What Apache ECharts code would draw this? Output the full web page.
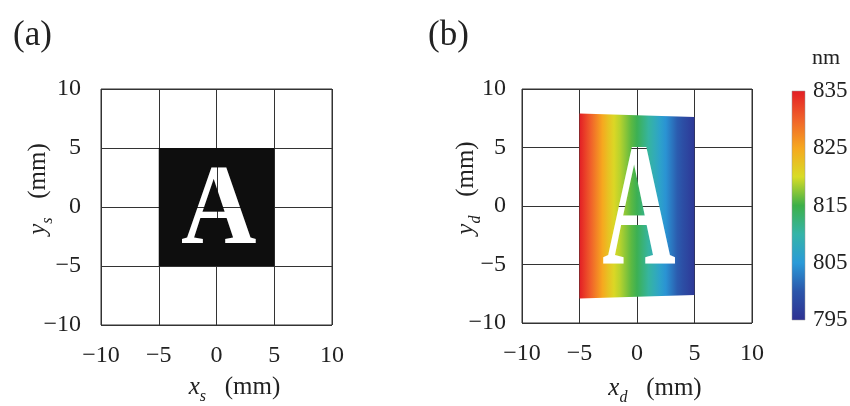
<!DOCTYPE html>
<html><head><meta charset="utf-8">
<script src="https://cdn.jsdelivr.net/npm/echarts@6/dist/echarts.min.js"></script>
<style>html,body{margin:0;padding:0;background:#fff}#c{width:850px;height:406px}</style>
</head><body><div id="c"></div>
<script>
// ---- data ----
const axisTicks = [-10, -5, 0, 5, 10];
const squareX = [-5, 5];
const squareY = [-5, 5];
const bandCornerX = [-5, 5];
const bandTop = [7.9, 7.6];
const bandBottom = [-7.9, -7.6];
const wavelengthX  = [-5, -4.5, -4, -3.5, -3, -2.5, -2, -1.5, -1, -0.5, 0, 0.5, 1, 1.5, 2, 2.5, 3, 3.5, 4, 4.5, 5];
const wavelengthNm = [835, 832.5, 830, 827.5, 825, 822.5, 820.5, 819, 817.5, 816, 814.5, 812.5, 810.5, 808.5, 806.5, 804.5, 802.5, 800.5, 799, 797.5, 796];
const colorbarRange = [795, 835];
const colorbarTicks = [795, 805, 815, 825, 835];
const palette = ['#2e3192', '#2b55aa', '#2a9ad8', '#35b4a8', '#3db049', '#d8dc26', '#f6a81f', '#f0622a', '#e31e25'];
const letterText = 'A';
const letterAnchorA = [0.2, 0.25];
const letterAnchorB = [0.17, 0.3];

const FONT = '"Liberation Serif", "Times New Roman", serif';
const TXT = '#222';
const LETTER_SIZE = 110;
const LINE_THROUGH = '#323232';
function fmt(v) { return v < 0 ? '\u2212' + Math.abs(v) : String(v); }
function nmColor(nm) { return echarts.color.lerp((nm - colorbarRange[0]) / (colorbarRange[1] - colorbarRange[0]), palette); }
const nameRich = {
  v: {fontFamily: FONT, fontStyle: 'italic', fontSize: 25, color: TXT, verticalAlign: 'bottom', padding: [0, 0, 5, 0]},
  s: {fontFamily: FONT, fontStyle: 'italic', fontSize: 16, color: TXT, verticalAlign: 'bottom'},
  n: {fontFamily: FONT, fontSize: 25, color: TXT, verticalAlign: 'bottom', padding: [0, 0, 5, 0]}
};
function axisName(main, sub) { return '{v|' + main + '}{s|' + sub + '}{n|   (mm)}'; }

function posAxis(gi, name, gap, labelMargin) {
  return {
    type: 'value', gridIndex: gi, min: axisTicks[0], max: axisTicks[axisTicks.length - 1], interval: axisTicks[1] - axisTicks[0],
    axisLine: {show: false}, axisTick: {show: false},
    splitLine: {show: true, lineStyle: {color: '#333', width: 1}},
    axisLabel: {fontFamily: FONT, fontSize: 24, color: TXT, margin: labelMargin, formatter: fmt},
    name: name, nameLocation: 'middle', nameGap: gap, nameMoveOverlap: false,
    nameTextStyle: {rich: nameRich, padding: [0, 0, 0, 36]}
  };
}

// letter: painted first (opaque white) in the overlay layer
function letterItem(sx, sy) {
  return function (params, api) {
    const p = api.coord([api.value(0), api.value(1)]);
    return {
      type: 'text', x: p[0], y: p[1] + 0.086 * LETTER_SIZE * sy, scaleX: sx, scaleY: sy,
      style: {text: letterText, fill: '#fff', fontFamily: FONT, fontWeight: 'bold', fontSize: LETTER_SIZE,
              align: 'center', verticalAlign: 'middle'}
    };
  };
}
// grid lines seen through the letter (painted only on top of the letter)
function throughLines(params, api) {
  const t = api.value(0);
  const lo = axisTicks[0], hi = axisTicks[axisTicks.length - 1];
  const v0 = api.coord([t, lo]), v1 = api.coord([t, hi]);
  const h0 = api.coord([lo, t]), h1 = api.coord([hi, t]);
  const st = {stroke: LINE_THROUGH, lineWidth: 1, blend: 'source-atop'};
  return {type: 'group', children: [
    {type: 'line', name: 'throughLine', shape: {x1: Math.round(v0[0]) + 0.5, y1: v0[1], x2: Math.round(v1[0]) + 0.5, y2: v1[1]}, style: st},
    {type: 'line', name: 'throughLine', shape: {x1: h0[0], y1: Math.round(h0[1]) + 0.5, x2: h1[0], y2: Math.round(h1[1]) + 0.5}, style: st}
  ]};
}
const tickData = axisTicks.map(function (t) { return [t]; });

const chart = echarts.init(document.getElementById('c'));
chart.setOption({
  animation: false,
  backgroundColor: '#fff',
  title: [
    {text: '(a)', left: 13, top: 18, padding: 0, textStyle: {fontFamily: FONT, fontSize: 35, fontWeight: 'normal', color: TXT}},
    {text: '(b)', left: 428, top: 18, padding: 0, textStyle: {fontFamily: FONT, fontSize: 35, fontWeight: 'normal', color: TXT}}
  ],
  grid: [
    {left: 101, top: 89, width: 231, height: 236, show: true, borderColor: '#333', borderWidth: 1, outerBoundsMode: 'none', containLabel: false},
    {left: 522, top: 89, width: 230, height: 234, show: true, borderColor: '#333', borderWidth: 1, outerBoundsMode: 'none', containLabel: false},
    {left: 792, top: 91, width: 13, height: 229, show: false, outerBoundsMode: 'none', containLabel: false}
  ],
  xAxis: [
    posAxis(0, axisName('x', 's'), 50, 19),
    posAxis(1, axisName('x', 'd'), 53, 19),
    {type: 'value', gridIndex: 2, min: 0, max: 1, show: false}
  ],
  yAxis: [
    posAxis(0, axisName('y', 's'), 45, 20),
    posAxis(1, axisName('y', 'd'), 38, 16),
    {type: 'value', gridIndex: 2, position: 'right', min: colorbarRange[0], max: colorbarRange[1],
     interval: colorbarTicks[1] - colorbarTicks[0],
     axisLine: {show: false}, axisTick: {show: false}, splitLine: {show: false},
     axisLabel: {fontFamily: FONT, fontSize: 23, color: TXT, margin: 8},
     name: 'nm', nameLocation: 'end', nameGap: 33, nameMoveOverlap: false,
     nameTextStyle: {fontFamily: FONT, fontSize: 22, color: TXT, align: 'left', verticalAlign: 'middle', padding: [0, 0, 0, 20]}}
  ],
  series: [
    {type: 'custom', xAxisIndex: 0, yAxisIndex: 0, zlevel: 1, z: 1, data: [letterAnchorA], renderItem: letterItem(0.95, 1.04)},
    {type: 'custom', xAxisIndex: 0, yAxisIndex: 0, zlevel: 1, z: 2, data: tickData, renderItem: throughLines},
    { // black square of panel (a), painted behind the letter
      type: 'custom', xAxisIndex: 0, yAxisIndex: 0, zlevel: 1, z: 3,
      data: [[squareX[0], squareY[0], squareX[1], squareY[1]]],
      renderItem: function (params, api) {
        const a = api.coord([api.value(0), api.value(3)]);
        const b = api.coord([api.value(2), api.value(1)]);
        return {type: 'rect', name: 'behindFill', shape: {x: a[0], y: a[1], width: b[0] - a[0], height: b[1] - a[1]},
                style: {fill: '#0e0e0e', blend: 'destination-over'}};
      }
    },
    {type: 'custom', xAxisIndex: 1, yAxisIndex: 1, zlevel: 1, z: 1, data: [letterAnchorB], renderItem: letterItem(0.925, 1.6)},
    {type: 'custom', xAxisIndex: 1, yAxisIndex: 1, zlevel: 1, z: 2, data: tickData, renderItem: throughLines},
    { // rainbow band of panel (b), painted behind the letter
      type: 'custom', xAxisIndex: 1, yAxisIndex: 1, zlevel: 1, z: 3,
      data: [[bandCornerX[0], bandCornerX[1], bandTop[0], bandTop[1], bandBottom[0], bandBottom[1]]],
      renderItem: function (params, api) {
        const x0 = api.value(0), x1 = api.value(1);
        const pts = [api.coord([x0, api.value(2)]), api.coord([x1, api.value(3)]),
                     api.coord([x1, api.value(5)]), api.coord([x0, api.value(4)])];
        const stops = wavelengthX.map(function (x, i) {
          return {offset: (x - x0) / (x1 - x0), color: nmColor(wavelengthNm[i])};
        });
        return {type: 'polygon', name: 'behindFill', shape: {points: pts},
                style: {fill: new echarts.graphic.LinearGradient(0, 0, 1, 0, stops), blend: 'destination-over'}};
      }
    },
    { // colour bar
      type: 'custom', xAxisIndex: 2, yAxisIndex: 2, z: 2,
      data: [[0, colorbarRange[0], 1, colorbarRange[1]]],
      renderItem: function (params, api) {
        const a = api.coord([api.value(0), api.value(3)]);
        const b = api.coord([api.value(2), api.value(1)]);
        const stops = palette.map(function (c, i) { return {offset: i / (palette.length - 1), color: c}; });
        return {type: 'rect', shape: {x: a[0], y: a[1], width: b[0] - a[0], height: b[1] - a[1]},
                style: {fill: new echarts.graphic.LinearGradient(0, 1, 0, 0, stops), stroke: '#999', lineWidth: 0.5}};
      }
    }
  ]
});

// make sure the compositing modes reach the painted elements
(function applyBlend() {
  const zr = chart.getZr();
  const list = zr.storage.getDisplayList(true);
  list.forEach(function (el) {
    if (!el.style) return;
    const isThrough = el.name === 'throughLine' || (el.type === 'line' && el.style.stroke === LINE_THROUGH);
    const isBehind = el.name === 'behindFill' || (el.zlevel === 1 && (el.type === 'rect' || el.type === 'polygon'));
    if (isThrough) { el.style.blend = 'source-atop'; el.markRedraw(); }
    else if (isBehind) { el.style.blend = 'destination-over'; el.markRedraw(); }
  });
  zr.refreshImmediately();
})();
</script>
</body></html>
